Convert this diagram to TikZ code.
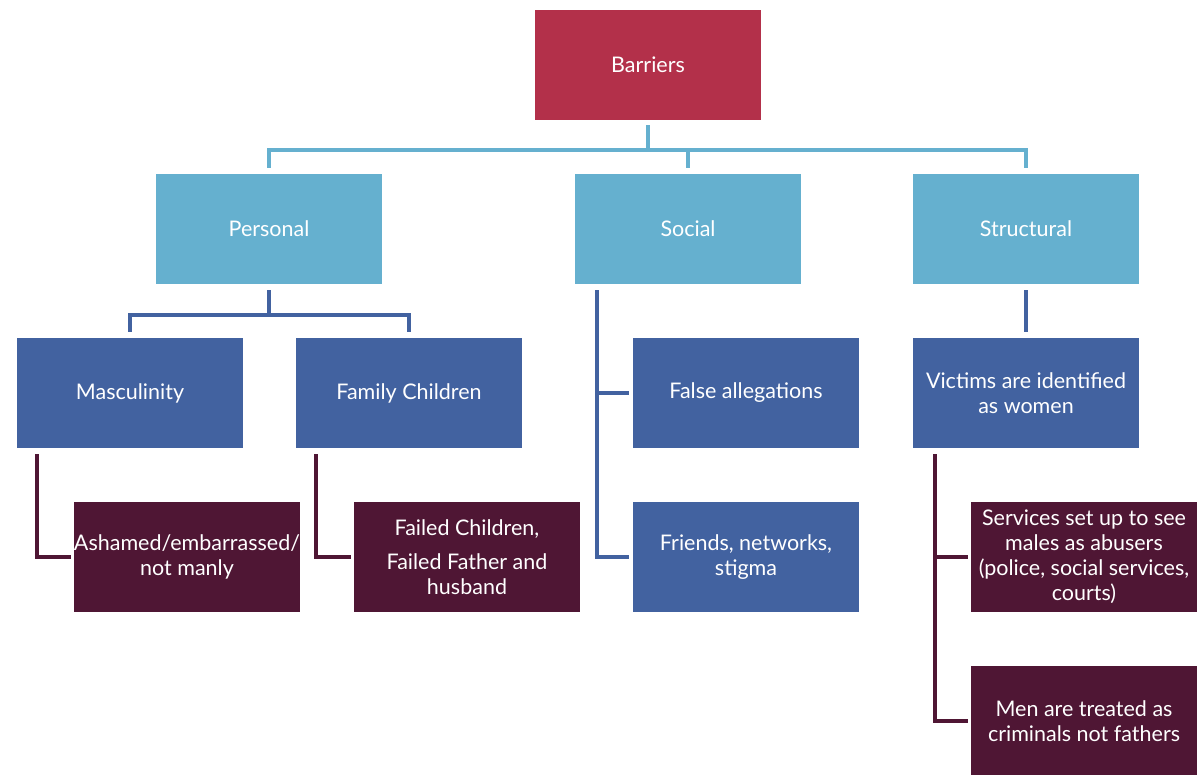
\documentclass[tikz,border=0pt]{standalone}
\usepackage{fontspec}
\setmainfont{Lato}
\usepackage{xcolor}
\usepackage{tikz}
\usetikzlibrary{calc, positioning}

\definecolor{barred}{HTML}{B3304A}
\definecolor{lightblue}{HTML}{65B0CF}
\definecolor{midblue}{HTML}{4262A0}
\definecolor{darkplum}{HTML}{4F1634}

\tikzset{
    box/.style={minimum width=226pt, minimum height=110pt, inner sep=0pt,
        align=center, text=white,
        font=\fontsize{21.5}{25}\selectfont},
    topbox/.style={box, fill=barred},
    catbox/.style={box, fill=lightblue},
    subbox/.style={box, fill=midblue},
    leafbox/.style={box, fill=darkplum},
    lnk/.style={line width=4.5pt, line join=miter}
}

\begin{document}
\begin{tikzpicture}[x=1pt, y=-1pt]
    \useasboundingbox (0,0) rectangle (1198,775);

    % Ebene 1
    \node[topbox] (bar) at (648,65) {Barriers};

    % Ebene 2
    \node[catbox] (pers) at (269,229) {Personal};
    \node[catbox] (soc) at (688,229) {Social};
    \node[catbox] (struc) at (1026,229) {Structural};

    % Ebene 3
    \node[subbox] (masc) at (130,393) {Masculinity};
    \node[subbox] (fam) at (409,393) {Family Children};
    \node[subbox] (false) at (746,393) {False allegations};
    \node[subbox] (friends) at (746,557) {Friends, networks,\\ stigma};
    \node[subbox] (vict) at (1026,393) {Victims are identified\\ as women};

    % Ebene 4
    \node[leafbox] (ash) at (187,557) {Ashamed/embarrassed/\\ not manly};
    \node[leafbox] (failed) at (467,557) {Failed Children,\\[9pt] Failed Father and\\ husband};
    \node[leafbox] (serv) at (1084,557) {Services set up to see\\ males as abusers\\ (police, social services,\\ courts)};
    \node[leafbox] (men) at (1084,721) {Men are treated as\\ criminals not fathers};

    % Verbindungen oben
    \draw[lnk, lightblue] ([yshift=-5pt]bar.south) -- ++(0,25);
    \draw[lnk, lightblue] ([yshift=6pt]pers.north) -- ++(0,-18) -| ([yshift=6pt]struc.north);
    \draw[lnk, lightblue] ([yshift=6pt]soc.north) -- ++(0,-18);

    % Verbindungen Mitte
    \draw[lnk, midblue] ([yshift=-6pt]pers.south) -- ++(0,25);
    \draw[lnk, midblue] ([yshift=6pt]masc.north) -- ++(0,-17) -| ([yshift=6pt]fam.north);
    \draw[lnk, midblue] ([xshift=22pt,yshift=-6pt]soc.south west) |- ([xshift=-4pt]friends.west);
    \draw[lnk, midblue] ([xshift=-4pt]false.west) -- ($(false.west -| soc.south west)+(22,0)$);
    \draw[lnk, midblue] ([yshift=-6pt]struc.south) -- ([yshift=6pt]vict.north);

    % Verbindungen unten
    \draw[lnk, darkplum] ([xshift=20pt,yshift=-6pt]masc.south west) |- ([xshift=-3pt]ash.west);
    \draw[lnk, darkplum] ([xshift=20pt,yshift=-6pt]fam.south west) |- ([xshift=-3pt]failed.west);
    \draw[lnk, darkplum] ([xshift=22pt,yshift=-6pt]vict.south west) |- ([xshift=-3pt]men.west);
    \draw[lnk, darkplum] ([xshift=-3pt]serv.west) -- ($(serv.west -| vict.south west)+(22,0)$);

\end{tikzpicture}
\end{document}
